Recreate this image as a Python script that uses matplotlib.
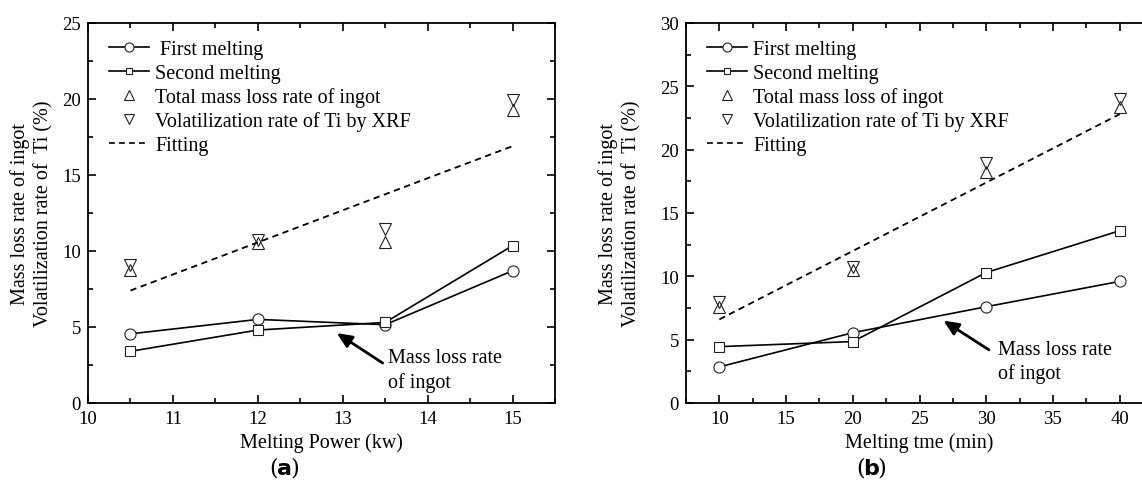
import matplotlib
matplotlib.use("Agg")
import matplotlib.pyplot as plt
from matplotlib.lines import Line2D
from matplotlib.ticker import MultipleLocator

plt.rcParams['font.family'] = ['Liberation Serif', 'DejaVu Serif']

# ---- Data panel (a) ----
power = [10.5, 12, 13.5, 15]
a_first = [4.55, 5.5, 5.15, 8.7]
a_second = [3.4, 4.8, 5.3, 10.35]
a_total = [8.75, 10.5, 10.6, 19.3]
a_xrf = [9.1, 10.7, 11.45, 19.95]
a_fit_x = [10.5, 15]
a_fit_y = [7.4, 16.9]

# ---- Data panel (b) ----
time_min = [10, 20, 30, 40]
b_first = [2.85, 5.55, 7.6, 9.6]
b_second = [4.45, 4.85, 10.3, 13.6]
b_total = [7.6, 10.5, 18.2, 23.4]
b_xrf = [7.95, 10.7, 18.95, 24.0]
b_fit_x = [10, 40]
b_fit_y = [6.6, 22.8]

W, H = 1142, 489
fig = plt.figure(figsize=(W / 100, H / 100), dpi=100)

def fx(px):
    return px / W

def fy(py):
    return 1 - py / H

axw = 467 / W
axb = fy(404)
axh = (404 - 24) / H
ax1 = fig.add_axes([fx(88), axb, axw, axh])
ax2 = fig.add_axes([fx(686), axb, axw, axh])

edge = '#222222'
ms_c, ms_s, ms_t = 8, 6.5, 8

def draw(ax, x, first, second, total, xrf, fx_, fy_, legend_labels, ylim, xlim,
         xmaj, xmin_, arrow_tail, arrow_tip, txt_xy, xlabel, ylabpx):
    ax.plot(x, first, color='black', lw=1.2, marker='o', ms=ms_c, mfc='white',
            mec=edge, mew=0.8, zorder=3)
    ax.plot(x, second, color='black', lw=1.2, marker='s', ms=ms_s, mfc='white',
            mec=edge, mew=0.8, zorder=3)
    ax.plot(x, total, ls='none', marker='^', ms=ms_t, mfc='none', mec=edge, mew=0.8)
    ax.plot(x, xrf, ls='none', marker='v', ms=ms_t, mfc='none', mec=edge, mew=0.8)
    ax.plot(fx_, fy_, color='black', lw=1.3, ls=(0, (3.5, 2.5)))
    ax.set_xlim(*xlim)
    ax.set_ylim(*ylim)
    ax.xaxis.set_major_locator(MultipleLocator(xmaj))
    ax.xaxis.set_minor_locator(MultipleLocator(xmin_))
    ax.yaxis.set_major_locator(MultipleLocator(5))
    ax.yaxis.set_minor_locator(MultipleLocator(2.5))
    ax.tick_params(which='both', direction='in', top=True, right=True,
                   labelsize=13.5, width=1.2, pad=5)
    ax.tick_params(which='major', length=6)
    ax.tick_params(which='minor', length=3.5)
    for s in ax.spines.values():
        s.set_linewidth(1.3)
    ax.set_xlabel(xlabel, fontsize=14.5, labelpad=4)
    handles = [
        Line2D([], [], color='black', lw=1.2, marker='o', ms=ms_c - 1.5, mfc='white', mec=edge, mew=0.8),
        Line2D([], [], color='black', lw=1.2, marker='s', ms=ms_s - 1.5, mfc='white', mec=edge, mew=0.8),
        Line2D([], [], ls='none', marker='^', ms=ms_t - 1.5, mfc='none', mec=edge, mew=0.8),
        Line2D([], [], ls='none', marker='v', ms=ms_t - 1.5, mfc='none', mec=edge, mew=0.8),
        Line2D([], [], color='black', lw=1.2, ls=(0, (3.5, 2.5))),
    ]
    ax.legend(handles, legend_labels, loc='upper left', frameon=False,
              bbox_to_anchor=(0.045, 0.955), borderaxespad=0, borderpad=0,
              fontsize=14.5, handlelength=2.0, handletextpad=0.3, labelspacing=0.22)
    ax.annotate('', xy=arrow_tip, xytext=arrow_tail,
                arrowprops=dict(arrowstyle='-|>,head_length=0.9,head_width=0.4',
                                color='black', lw=2.0, shrinkA=0, shrinkB=0))
    ax.text(txt_xy[0], txt_xy[1], 'Mass loss rate\nof ingot', fontsize=14.5,
            ha='left', va='center', linespacing=1.3)
    fig.text(fx(ylabpx), fy(214),
             'Mass loss rate of ingot\nVolatilization rate of  Ti (%)',
             rotation=90, ha='center', va='center', fontsize=14.5,
             multialignment='center', linespacing=1.3)

draw(ax1, power, a_first, a_second, a_total, a_xrf, a_fit_x, a_fit_y,
     [' First melting', 'Second melting', 'Total mass loss rate of ingot',
      'Volatilization rate of Ti by XRF', 'Fitting'],
     (0, 25), (10, 15.5), 1, 0.5, (13.47, 2.63), (12.93, 4.6), (13.53, 2.18),
     'Melting Power (kw)', 31.5)

draw(ax2, time_min, b_first, b_second, b_total, b_xrf, b_fit_x, b_fit_y,
     ['First melting', 'Second melting', 'Total mass loss of ingot',
      'Volatilization rate of Ti by XRF', 'Fitting'],
     (0, 30), (7.5, 42.5), 5, 2.5, (30.2, 4.2), (26.8, 6.5), (30.9, 3.3),
     'Melting tme (min)', 620)
ax2.set_xticks([10, 15, 20, 25, 30, 35, 40])

def caption(xpx, letter):
    fig.text(fx(xpx), fy(469), letter, fontsize=16, ha='center', va='center',
             family='DejaVu Sans', fontweight='bold')
    fig.text(fx(xpx - 6.5), fy(469), '(', fontsize=16, ha='right', va='center',
             family='DejaVu Serif')
    fig.text(fx(xpx + 6.5), fy(469), ')', fontsize=16, ha='left', va='center',
             family='DejaVu Serif')

caption(284, 'a')
caption(871, 'b')

fig.savefig('out.png', dpi=100)
